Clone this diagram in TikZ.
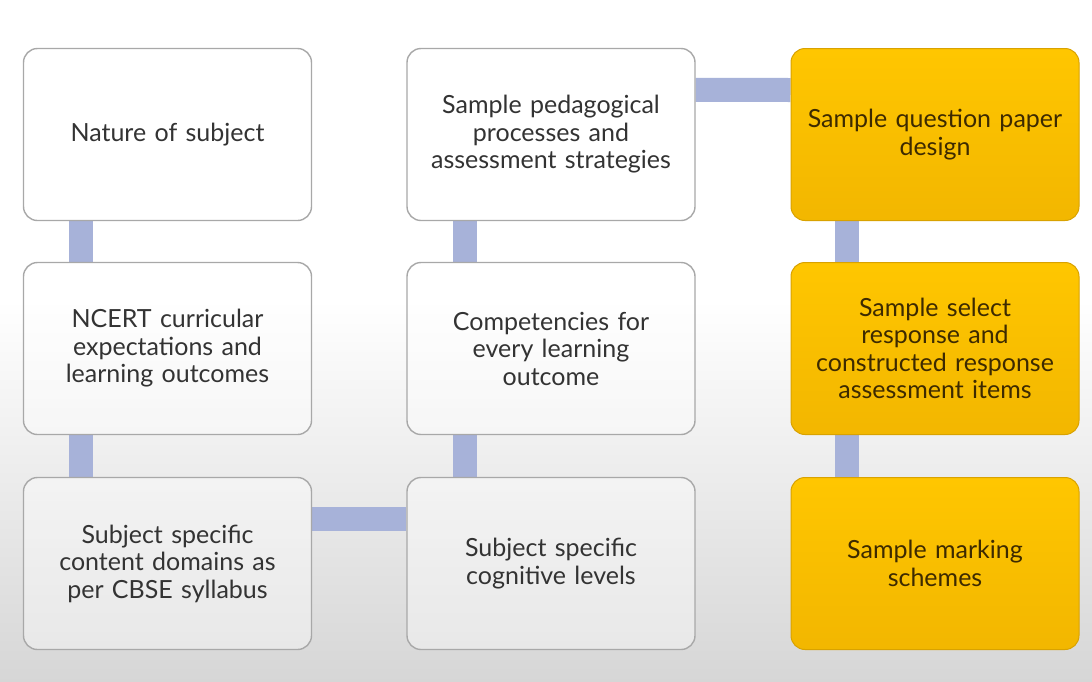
\documentclass[tikz,border=0pt]{standalone}
\usepackage{fontspec}
\setmainfont{Lato}
\pgfdeclarelayer{bg}
\pgfdeclarelayer{conn}
\pgfsetlayers{bg,conn,main}
\definecolor{bar}{HTML}{A7B2D9}
\definecolor{boxline}{HTML}{A8A8A8}
\definecolor{txt}{HTML}{333333}
\definecolor{gold}{HTML}{FFC000}
\definecolor{goldline}{HTML}{D9A200}
\definecolor{goldtxt}{HTML}{3D2A00}
\begin{document}
\begin{tikzpicture}[x=1pt,y=-1pt,
  card/.style={rectangle, rounded corners=14pt, minimum width=288pt, minimum height=172pt,
    text width=270pt, align=center, font=\fontsize{25}{27.5}\selectfont, inner sep=0pt},
  plain/.style={card, draw=boxline, line width=1.4pt, fill=white, fill opacity=0.4, text opacity=1, text=txt},
  goldbox/.style={card, draw=goldline, line width=1pt, top color=gold!90!yellow, bottom color=gold!95!black, text=goldtxt},
  link/.style={bar, line width=24pt}]
\begin{pgfonlayer}{bg}
\fill[white] (0,0) rectangle (1092,300);
\shade[top color=white, bottom color=black!16] (0,300) rectangle (1092,681);
\end{pgfonlayer}
\node[plain] (a1) at (167.5,134.5) {Nature of subject};
\node[plain] (a2) at (167.5,348.5) {NCERT curricular\\expectations and\\learning outcomes};
\node[plain] (a3) at (167.5,563.5) {Subject specific\\content domains as\\per CBSE syllabus};
\node[plain] (b1) at (551,134.5) {Sample pedagogical\\processes and\\assessment strategies};
\node[plain] (b2) at (551,348.5) {Competencies for\\every learning\\outcome};
\node[plain] (b3) at (551,563.5) {Subject specific\\cognitive levels};
\node[goldbox] (c1) at (935,134.5) {Sample question paper\\design};
\node[goldbox] (c2) at (935,348.5) {Sample select\\response and\\constructed response\\assessment items};
\node[goldbox] (c3) at (935,563.5) {Sample marking\\schemes};
\begin{pgfonlayer}{conn}
\draw[link] ([xshift=58pt]a1.south west) -- ([xshift=58pt]a2.north west);
\draw[link] ([xshift=58pt]a2.south west) -- ([xshift=58pt]a3.north west);
\draw[link] ([xshift=59pt]b1.south west) -- ([xshift=59pt]b2.north west);
\draw[link] ([xshift=59pt]b2.south west) -- ([xshift=59pt]b3.north west);
\draw[link] ([xshift=56pt]c1.south west) -- ([xshift=56pt]c2.north west);
\draw[link] ([xshift=56pt]c2.south west) -- ([xshift=56pt]c3.north west);
\draw[link] ([yshift=-42pt]b1.north east) -- ([yshift=-42pt]c1.north west);
\draw[link] ([yshift=-42pt]a3.north east) -- ([yshift=-42pt]b3.north west);
\end{pgfonlayer}
\end{tikzpicture}
\end{document}
